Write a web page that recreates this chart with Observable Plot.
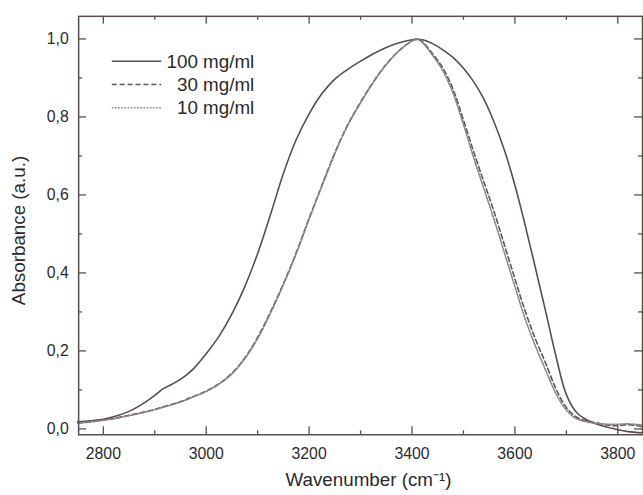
<!DOCTYPE html>
<html><head><meta charset="utf-8">
<script src="https://cdn.jsdelivr.net/npm/d3@7"></script>
<script src="https://cdn.jsdelivr.net/npm/@observablehq/plot@0.6"></script>
<style>
html,body{margin:0;padding:0;background:#fff;overflow:hidden;}
#chart{width:643px;height:495px;overflow:hidden;}
</style>
</head><body><div id="chart"></div>
<script>
// ---- data ----
const seriesNames = ["100 mg/ml", "30 mg/ml", "10 mg/ml"];

const wavenumber100 = [2750,2775,2800,2825,2850,2875,2900,2915,2925,2950,2975,3000,3025,3050,3075,3100,3125,3150,3175,3200,3225,3250,3275,3300,3325,3350,3375,3400,3420,3440,3460,3480,3500,3520,3540,3560,3580,3600,3620,3640,3660,3680,3700,3720,3740,3760,3780,3800,3820,3848];
const absorbance100 = [0.018,0.021,0.025,0.033,0.045,0.063,0.086,0.102,0.109,0.127,0.154,0.193,0.238,0.295,0.365,0.450,0.550,0.655,0.742,0.808,0.860,0.897,0.922,0.943,0.962,0.978,0.990,0.998,0.998,0.988,0.972,0.952,0.925,0.890,0.845,0.785,0.713,0.625,0.522,0.412,0.300,0.185,0.088,0.042,0.023,0.012,0.004,-0.002,-0.007,-0.010];

const wavenumber30 = [2750,2775,2800,2825,2850,2875,2900,2925,2950,2975,3000,3025,3050,3075,3100,3125,3150,3175,3200,3225,3250,3275,3300,3325,3350,3375,3400,3410,3420,3440,3460,3480,3500,3520,3540,3560,3580,3600,3620,3640,3660,3680,3700,3720,3740,3760,3780,3800,3820,3848];
const absorbance30 = [0.015,0.018,0.023,0.028,0.035,0.042,0.050,0.060,0.070,0.083,0.097,0.116,0.143,0.182,0.235,0.300,0.372,0.452,0.540,0.625,0.708,0.780,0.838,0.890,0.935,0.970,0.995,1.000,0.993,0.962,0.925,0.870,0.792,0.710,0.632,0.555,0.470,0.385,0.302,0.230,0.168,0.102,0.055,0.030,0.020,0.015,0.010,0.008,0.011,0.006];

const wavenumber10 = [2750,2775,2800,2825,2850,2875,2900,2925,2950,2975,3000,3025,3050,3075,3100,3125,3150,3175,3200,3225,3250,3275,3300,3325,3350,3375,3400,3410,3420,3440,3460,3480,3500,3520,3540,3560,3580,3600,3620,3640,3660,3680,3700,3720,3740,3760,3780,3800,3820,3848];
const absorbance10 = [0.015,0.018,0.022,0.027,0.034,0.041,0.049,0.059,0.069,0.082,0.096,0.115,0.141,0.180,0.232,0.297,0.370,0.450,0.538,0.623,0.706,0.778,0.836,0.889,0.934,0.970,0.995,1.000,0.991,0.958,0.918,0.860,0.780,0.695,0.615,0.535,0.450,0.365,0.282,0.212,0.150,0.090,0.048,0.026,0.018,0.014,0.012,0.012,0.013,0.010];

const xTicks = [2800, 3000, 3200, 3400, 3600, 3800];
const xMinorTicks = [2900, 3100, 3300, 3500, 3700];
const yTicks = [0, 0.2, 0.4, 0.6, 0.8, 1.0];
const yMinorTicks = [0.1, 0.3, 0.5, 0.7, 0.9];

// ---- build table ----
const series = [
  {name: seriesNames[0], w: wavenumber100, a: absorbance100},
  {name: seriesNames[1], w: wavenumber30, a: absorbance30},
  {name: seriesNames[2], w: wavenumber10, a: absorbance10}
];
const rows = series.flatMap(s => s.w.map((w, i) => ({w, a: s.a[i], series: s.name})));

// ---- styling / layout ----
const W = 650, H = 495;
const mL = 79, mT = 16, mB = 56, mR = 1;
const frameW = W - mL - mR, frameH = H - mT - mB;
const ink = "#574d4d";
const textInk = "#2a2a2a";
const styles = {
  "100 mg/ml": {stroke: ink, dash: null, width: 1.6},
  "30 mg/ml": {stroke: "#5e5656", dash: "5,3", width: 1.6},
  "10 mg/ml": {stroke: "#8a8282", dash: "1.6,1.6", width: 1.6}
};
const fmt = d => d3.format(".1f")(d).replace(".", ",");

const lineMarks = seriesNames.map(n => Plot.line(rows.filter(r => r.series === n), {
  x: "w", y: "a", stroke: styles[n].stroke, strokeWidth: styles[n].width,
  strokeDasharray: styles[n].dash, curve: "catmull-rom"
}));

const chart = Plot.plot({
  width: W, height: H,
  marginLeft: mL, marginTop: mT, marginBottom: mB, marginRight: mR,
  style: {fontFamily: "'Liberation Sans', Arial, sans-serif", fontSize: "16px", color: textInk, background: "#fff"},
  x: {domain: [2752, 3848]},
  y: {domain: [-0.015, 1.058]},
  marks: [
    // inward tick marks
    Plot.tickX(xTicks, {x: d => d, insetTop: frameH - 8, stroke: ink, strokeWidth: 1.3}),
    Plot.tickX(xTicks, {x: d => d, insetBottom: frameH - 8, stroke: ink, strokeWidth: 1.3}),
    Plot.tickX(xMinorTicks, {x: d => d, insetTop: frameH - 4, stroke: ink, strokeWidth: 1.3}),
    Plot.tickX(xMinorTicks, {x: d => d, insetBottom: frameH - 4, stroke: ink, strokeWidth: 1.3}),
    Plot.tickY(yTicks, {y: d => d, insetRight: frameW - 8, stroke: ink, strokeWidth: 1.3}),
    Plot.tickY(yTicks, {y: d => d, insetLeft: frameW - 8, stroke: ink, strokeWidth: 1.3}),
    Plot.tickY(yMinorTicks, {y: d => d, insetRight: frameW - 4, stroke: ink, strokeWidth: 1.3}),
    Plot.tickY(yMinorTicks, {y: d => d, insetLeft: frameW - 4, stroke: ink, strokeWidth: 1.3}),
    // tick labels + axis titles
    Plot.axisX(xTicks, {anchor: "bottom", tickSize: 0, tickPadding: 13, fontSize: 16, fill: textInk,
      tickFormat: d => String(d),
      label: "Wavenumber (cm⁻¹)", labelAnchor: "center", labelArrow: "none", labelOffset: 52}),
    Plot.axisY(yTicks, {anchor: "left", tickSize: 0, tickPadding: 10, fontSize: 16, fill: textInk,
      tickFormat: fmt, label: "Absorbance (a.u.)", labelAnchor: "center", labelArrow: "none", labelOffset: 68}),
    ...lineMarks,
    Plot.frame({stroke: ink, strokeWidth: 1.5})
  ]
});

// larger axis titles, small position nudges (appended to existing transforms)
const svg = d3.select(chart);
svg.selectAll("g[aria-label='x-axis label'] text, g[aria-label='y-axis label'] text")
  .attr("font-size", 19).attr("fill", textInk);
const nudge = (sel, dx, dy) => sel.attr("transform", function () {
  return ((this.getAttribute("transform") || "") + ` translate(${dx},${dy})`).trim();
});
nudge(svg.selectAll("g[aria-label='x-axis label']"), 8, 0);
nudge(svg.selectAll("g[aria-label='y-axis label']"), 0, 5);

// legend (inside the frame, top-left)
const lg = svg.append("g").attr("transform", "translate(113,62)");
seriesNames.forEach((n, i) => {
  const g = lg.append("g").attr("transform", `translate(0,${i * 23.5})`);
  g.append("line").attr("x1", 0).attr("x2", 50).attr("y1", 0).attr("y2", 0)
    .attr("stroke", styles[n].stroke).attr("stroke-width", styles[n].width)
    .attr("stroke-dasharray", styles[n].dash);
  g.append("text").attr("x", 144).attr("y", 0).attr("dy", "0.35em")
    .attr("text-anchor", "end").attr("font-size", 19).attr("fill", textInk)
    .attr("font-family", "'Liberation Sans', Arial, sans-serif").text(n);
});

document.getElementById("chart").appendChild(chart);
</script>
</body></html>
